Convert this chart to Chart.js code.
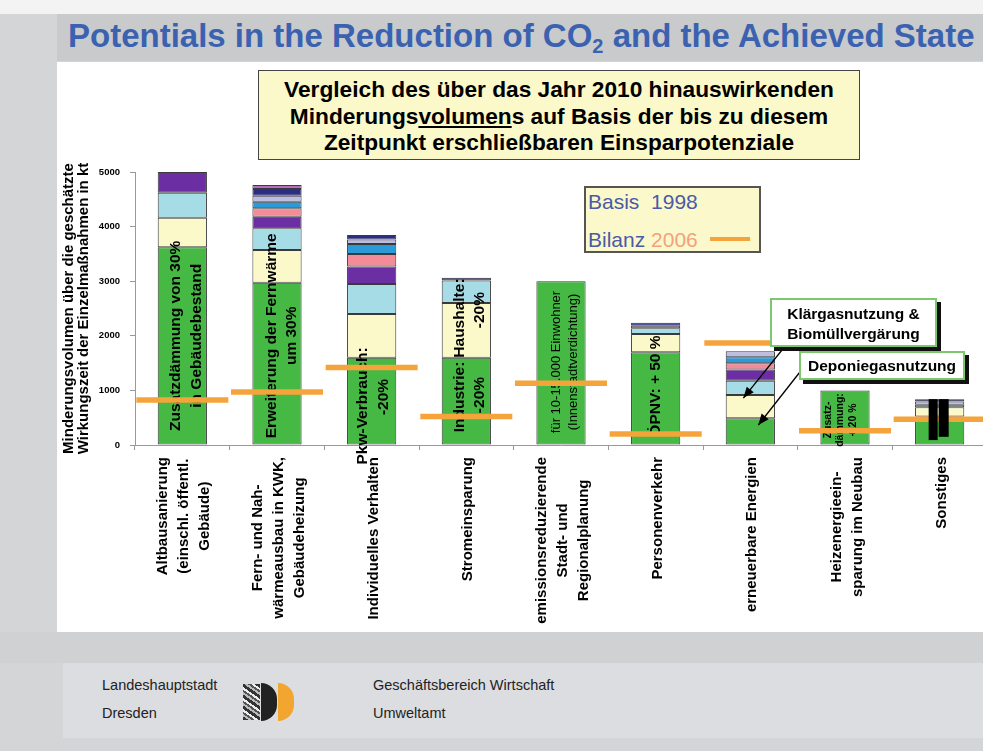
<!DOCTYPE html>
<html lang="de">
<head>
  <meta charset="UTF-8" />
  <title>Potentials in the Reduction of CO2 and the Achieved State</title>
  <script src="https://cdn.jsdelivr.net/npm/chart.js"></script>
  <style>
    html, body { margin: 0; padding: 0; width: 983px; height: 751px; overflow: hidden; background: #d4d5d7; font-family: Arial, "Liberation Sans", sans-serif; }
    .abs { position: absolute; }
    #topstrip { left: 0; top: 0; width: 983px; height: 14px; background: #f3f3f3; }
    #titlebar { left: 57px; top: 14px; width: 926px; height: 47px; background: #c9cacc; }
    #title { left: 68px; top: 17px; font-weight: bold; font-size: 33px; color: #3b62b0; white-space: nowrap; }
    #title sub { font-size: 20px; vertical-align: -6px; line-height: 0; }
    #panel { left: 57px; top: 62px; width: 926px; height: 570px; background: #fff; }
    #chartwrap { left: 0; top: 150px; width: 992px; height: 490px; z-index: 2; }
    #subtitle { left: 258px; top: 70px; width: 602px; height: 90px; box-sizing: border-box; background: #fbf9c9; border: 1.5px solid #444;
      font-weight: bold; font-size: 22.7px; line-height: 26.5px; text-align: center; padding-top: 5px; z-index: 3; }
    #legendbox { left: 584px; top: 186px; width: 177px; height: 67px; box-sizing: border-box; background: #fbf9cb; border: 2px solid #555;
      font-size: 21px; color: #4a5ba8; z-index: 3; }
    #legendbox .l1 { position: absolute; left: 2px; top: 2px; line-height: 24px; white-space: pre; }
    #legendbox .l2 { position: absolute; left: 2px; top: 40px; line-height: 24px; white-space: pre; }
    #legendbox .y2006 { color: #f2a27e; }
    #legendbox .bar { position: absolute; left: 124px; top: 49px; width: 40px; height: 4px; background: #f4a43a; }
    .note { background: #fff; border: 2px solid #7cc86c; box-sizing: border-box; box-shadow: 4px 4px 0 #111;
      font-weight: bold; font-size: 15.5px; line-height: 20px; text-align: center; z-index: 3; }
    #note1 { left: 770px; top: 298px; width: 167px; height: 49px; padding-top: 4px; }
    #note2 { left: 799px; top: 351px; width: 166px; height: 29px; padding-top: 3px; }
    #band { left: 0; top: 632px; width: 983px; height: 31px; background: #d0d1d3; }
    #footer { left: 63px; top: 663px; width: 920px; height: 75px; background: #dcdde0; }
    .ft { font-size: 14.5px; line-height: 28px; color: #222; }
    #ft1 { left: 102px; top: 671px; }
    #ft2 { left: 373px; top: 671px; }
    #lion { left: 243px; top: 684px; width: 17px; height: 36px;
      background: repeating-linear-gradient(35deg, #333 0 3px, #bbb 3px 5px, #555 5px 7px, #eee 7px 9px); }
    #half1 { left: 261px; top: 683px; width: 16px; height: 38px; background: #222; border-radius: 0 19px 19px 0 / 0 19px 19px 0; }
    #half2 { left: 278px; top: 683px; width: 16px; height: 38px; background: #f2a630; border-radius: 0 19px 19px 0 / 0 19px 19px 0; }
  </style>
</head>
<body>
  <div id="topstrip" class="abs"></div>
  <div id="titlebar" class="abs"></div>
  <div id="title" class="abs">Potentials in the Reduction of CO<sub>2</sub> and the Achieved State</div>
  <div id="panel" class="abs"></div>
  <div id="band" class="abs"></div>
  <div id="footer" class="abs"></div>

  <div id="subtitle" class="abs">Vergleich des über das Jahr 2010 hinauswirkenden<br>Minderungs<u>volumen</u>s auf Basis der bis zu diesem<br>Zeitpunkt erschließbaren Einsparpotenziale</div>

  <div id="legendbox" class="abs">
    <div class="l1">Basis  1998</div>
    <div class="l2">Bilanz <span class="y2006">2006</span></div>
    <div class="bar"></div>
  </div>

  <div id="note1" class="abs note">Klärgasnutzung &amp;<br>Biomüllvergärung</div>
  <div id="note2" class="abs note">Deponiegasnutzung</div>

  <div id="chartwrap" class="abs"><canvas id="co2Chart" width="992" height="490"></canvas></div>

  <div id="ft1" class="abs ft">Landeshauptstadt<br>Dresden</div>
  <div id="lion" class="abs"></div>
  <div id="half1" class="abs"></div>
  <div id="half2" class="abs"></div>
  <div id="ft2" class="abs ft">Geschäftsbereich Wirtschaft<br>Umweltamt</div>

  <script>
    // categories (x axis), one array per label line
    const categories = [
      ['Altbausanierung', '(einschl. öffentl.', 'Gebäude)'],
      ['Fern- und Nah-', 'wärmeausbau in KWK,', 'Gebäudeheizung'],
      ['Individuelles Verhalten'],
      ['Stromeinsparung'],
      ['emissionsreduzierende', 'Stadt- und', 'Regionalplanung'],
      ['Personenverkehr'],
      ['erneuerbare Energien'],
      ['Heizenergieein-', 'sparung im Neubau'],
      ['Sonstiges']
    ];

    // stacked segments, kt (Basis 1998)
    const green    = [3620, 2970, 1600, 1600, 3000, 1700, 490, 1000, 520];
    const yellow   = [540, 600, 800, 1000, null, 335, 425, null, 170];
    const lightBlue= [460, 400, 550, 415, null, 105, 260, null, 45];
    const purple   = [380, 210, 320, null, null, null, 210, null, null];
    const pink     = [null, 155, 230, null, null, null, 110, null, null];
    const blue     = [null, 120, 180, null, null, null, 110, null, null];
    const lavender = [null, 110, 85, null, null, 45, 110, null, 60];
    const navy     = [null, 123, 80, 50, null, 55, null, null, 45];
    const magenta  = [null, 72, null, null, null, null, null, null, null];

    // Bilanz 2006
    const bilanz2006 = [824, 970, 1420, 520, 1130, 200, 1870, 262, 470];

    const yTicks = [0, 1000, 2000, 3000, 4000, 5000];

    // texts written inside the bars
    const barNotes = [
      { i: 0, dx: -7, v: 2000, text: 'Zusatzdämmung von 30%', font: 'bold 15.5px Arial' },
      { i: 0, dx: 14, v: 2000, text: 'in Gebäudebestand', font: 'bold 15.5px Arial' },
      { i: 1, dx: -5, v: 2000, text: 'Erweiterung der Fernwärme', font: 'bold 15.5px Arial' },
      { i: 1, dx: 15, v: 2000, text: 'um 30%', font: 'bold 15.5px Arial' },
      { i: 2, dx: -9, v: 715, text: 'Pkw-Verbrauch:', font: 'bold 15.5px Arial' },
      { i: 2, dx: 12, v: 880, text: '-20%', font: 'bold 15.5px Arial' },
      { i: 3, dx: -7, v: 880, text: 'Industrie:', font: 'bold 15.5px Arial' },
      { i: 3, dx: 13, v: 915, text: '-20%', font: 'bold 15.5px Arial' },
      { i: 3, dx: -7, v: 2325, text: 'Haushalte:', font: 'bold 15.5px Arial' },
      { i: 3, dx: 13, v: 2470, text: '-20%', font: 'bold 15.5px Arial' },
      { i: 4, dx: -5, v: 1520, text: 'für 10-15.000 Einwohner', font: '13px Arial' },
      { i: 4, dx: 12, v: 1520, text: '(Innenstadtverdichtung)', font: '13px Arial' },
      { i: 5, dx: 0, v: 1080, text: 'ÖPNV: + 50 %', font: 'bold 15.5px Arial' },
      { i: 7, dx: -17, v: 458, text: 'Zusatz-', font: 'bold 10.5px Arial' },
      { i: 7, dx: -4.5, v: 458, text: 'dämmung:', font: 'bold 10.5px Arial' },
      { i: 7, dx: 8, v: 458, text: '+ 20 %', font: 'bold 10.5px Arial' }
    ];

    const colors = {
      green: '#45b944', yellow: '#fbf9c9', lightBlue: '#a6dce6', purple: '#6b2fa3',
      pink: '#f28c98', blue: '#2b9ad9', lavender: '#bcbde3', navy: '#2a2d83', magenta: '#b86cbc'
    };

    const seg = (label, data, color) => ({
      type: 'bar', label, data, backgroundColor: color, borderColor: '#3a3a3a',
      borderWidth: 1, borderSkipped: false, order: 1
    });

    const extras = {
      id: 'extras',
      beforeDatasetDraw(chart, args) {
        if (args.meta.type !== 'line') return;
        const ctx = chart.ctx, xs = chart.scales.x, ys = chart.scales.y;
        ctx.save();
        ctx.fillStyle = '#000';
        ctx.textAlign = 'center';
        ctx.textBaseline = 'middle';
        barNotes.forEach(n => {
          ctx.font = n.font;
          ctx.save();
          ctx.translate(xs.getPixelForValue(n.i) + n.dx, ys.getPixelForValue(n.v));
          ctx.rotate(-Math.PI / 2);
          ctx.fillText(n.text, 0, 0);
          ctx.restore();
        });
        ctx.restore();
      },
      afterDraw(chart) {
        const ctx = chart.ctx, xs = chart.scales.x, ys = chart.scales.y;
        ctx.save();
        // x labels, rotated, lines centred on each other
        ctx.fillStyle = '#000';
        ctx.font = 'bold 15px Arial';
        ctx.textAlign = 'center';
        ctx.textBaseline = 'middle';
        const top = chart.chartArea.bottom + 12;
        categories.forEach((lines, i) => {
          const w = Math.max(...lines.map(l => ctx.measureText(l).width));
          const cx = xs.getPixelForValue(i) + 2;
          lines.forEach((l, j) => {
            ctx.save();
            ctx.translate(cx + (j - (lines.length - 1) / 2) * 21, top + w / 2);
            ctx.rotate(-Math.PI / 2);
            ctx.fillText(l, 0, 0);
            ctx.restore();
          });
        });

        // black blocks on "Sonstiges"
        const k = 8;
        const sum = [green, yellow, lightBlue, purple, pink, blue, lavender, navy, magenta]
          .reduce((s, a) => s + (a[k] || 0), 0);
        const bx = xs.getPixelForValue(k), by = ys.getPixelForValue(sum);
        ctx.fillStyle = '#000';
        ctx.fillRect(bx - 11, by, 9, ys.getPixelForValue(90) - by);
        ctx.fillRect(bx - 1, by, 10, ys.getPixelForValue(150) - by);

        // arrows from the notes into the renewable energy bar
        const arrow = (x1, y1, x2, y2) => {
          ctx.strokeStyle = '#000';
          ctx.fillStyle = '#000';
          ctx.lineWidth = 1.3;
          ctx.beginPath(); ctx.moveTo(x1, y1); ctx.lineTo(x2, y2); ctx.stroke();
          const a = Math.atan2(y2 - y1, x2 - x1), L = 11, W = 4.5;
          ctx.beginPath();
          ctx.moveTo(x2, y2);
          ctx.lineTo(x2 - L * Math.cos(a) + W * Math.sin(a), y2 - L * Math.sin(a) - W * Math.cos(a));
          ctx.lineTo(x2 - L * Math.cos(a) - W * Math.sin(a), y2 - L * Math.sin(a) + W * Math.cos(a));
          ctx.closePath(); ctx.fill();
        };
        const ex = xs.getPixelForValue(6);
        arrow(782, 200, ex - 7, ys.getPixelForValue(860));
        arrow(807, 213, ex + 8, ys.getPixelForValue(366));
        ctx.restore();
      }
    };

    Chart.defaults.font.family = 'Arial, "Liberation Sans", sans-serif';

    new Chart(document.getElementById('co2Chart'), {
      data: {
        labels: categories.map(c => c.join(' ')),
        datasets: [
          seg('green', green, colors.green),
          seg('yellow', yellow, colors.yellow),
          seg('lightBlue', lightBlue, colors.lightBlue),
          seg('purple', purple, colors.purple),
          seg('pink', pink, colors.pink),
          seg('blue', blue, colors.blue),
          seg('lavender', lavender, colors.lavender),
          seg('navy', navy, colors.navy),
          seg('magenta', magenta, colors.magenta),
          {
            type: 'line', label: 'Bilanz 2006', data: bilanz2006, stack: 'bilanz',
            showLine: false, pointStyle: 'line', pointRadius: 46, pointHoverRadius: 46,
            pointBorderWidth: 5.5, pointBorderColor: '#f4a43a', borderColor: '#f4a43a', order: 0
          }
        ]
      },
      options: {
        responsive: false,
        animation: false,
        devicePixelRatio: 1,
        datasets: { bar: { categoryPercentage: 1, barPercentage: 0.52 } },
        layout: { autoPadding: false, padding: { left: 60, top: 22, right: 5, bottom: 190 } },
        plugins: { legend: { display: false }, tooltip: { enabled: false } },
        events: [],
        scales: {
          x: {
            stacked: true,
            grid: { display: true, drawOnChartArea: false, tickLength: 5, color: '#999', offset: true },
            border: { color: '#999' },
            ticks: { display: false }
          },
          y: {
            stacked: true,
            min: 0, max: 5000,
            afterBuildTicks: s => { s.ticks = yTicks.map(v => ({ value: v })); },
            afterFit: s => { s.width = 75; },
            grid: { drawOnChartArea: false, tickLength: 5, color: '#999' },
            border: { color: '#999' },
            ticks: { padding: 10, color: '#000', font: { size: 9.5, weight: 'bold' }, callback: v => String(v) },
            title: {
              display: true,
              text: ['Minderungsvolumen über die geschätzte', 'Wirkungszeit der Einzelmaßnahmen in kt'],
              color: '#000',
              font: { size: 15, weight: 'bold', lineHeight: 1.0 },
              padding: { top: 1, bottom: 0 }
            }
          }
        }
      },
      plugins: [extras]
    });
  </script>
</body>
</html>
